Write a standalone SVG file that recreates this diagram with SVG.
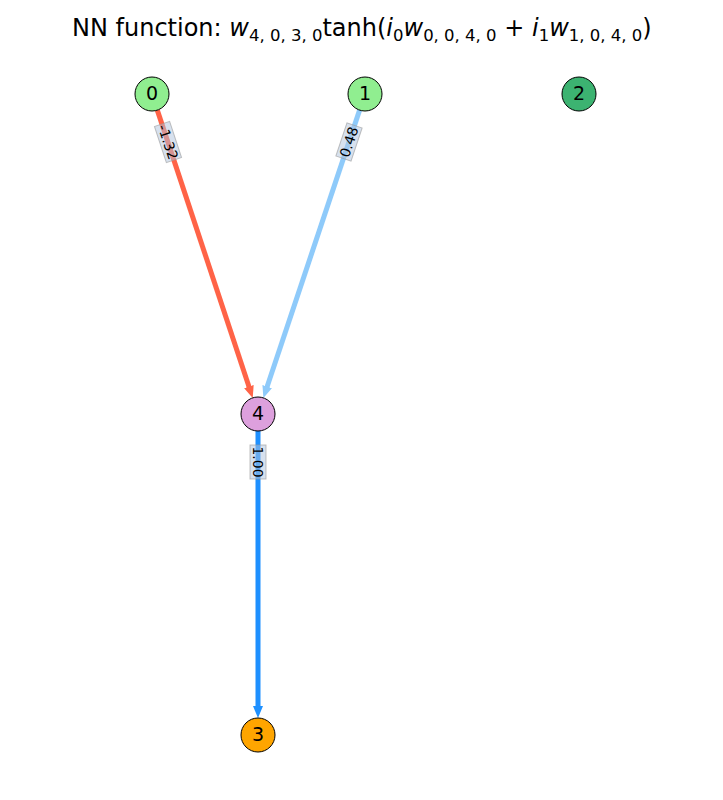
<svg xmlns="http://www.w3.org/2000/svg" width="723" height="800" viewBox="0 0 723 800">
<style>
.node circle{stroke:#000;stroke-width:1}
.node text{font-family:"DejaVu Sans",sans-serif;font-size:19px;text-anchor:middle;dominant-baseline:central;fill:#000}
.edge{stroke-width:5;fill:none}
.lbl rect{fill:#b0c4de;fill-opacity:0.5;stroke:#9a9a9a;stroke-opacity:0.6;stroke-width:1}
.lbl text{font-family:"DejaVu Sans",sans-serif;font-size:14px;text-anchor:middle;dominant-baseline:central;fill:#000}
.title{font-family:"DejaVu Sans",sans-serif;font-size:24px;fill:#000}
.it{font-style:italic}
</style>
<defs>
<marker id="aR" markerUnits="userSpaceOnUse" markerWidth="12" markerHeight="10" refX="5" refY="5" orient="auto"><path d="M0,0 L12,5 L0,10 z" fill="#FF6347"/></marker>
<marker id="aL" markerUnits="userSpaceOnUse" markerWidth="12" markerHeight="10" refX="5" refY="5" orient="auto"><path d="M0,0 L12,5 L0,10 z" fill="#8ECAFA"/></marker>
<marker id="aD" markerUnits="userSpaceOnUse" markerWidth="12" markerHeight="10" refX="5" refY="5" orient="auto"><path d="M0,0 L12,5 L0,10 z" fill="#1E90FF"/></marker>
</defs>
<rect width="723" height="800" fill="#fff"/>
<text class="title" x="72" y="36">NN function: <tspan class="it">w</tspan><tspan font-size="16.5" dy="5">4, 0, 3, 0</tspan><tspan dy="-5">tanh(</tspan><tspan class="it">i</tspan><tspan font-size="16.5" dy="5">0</tspan><tspan class="it" dy="-5">w</tspan><tspan font-size="16.5" dy="5">0, 0, 4, 0</tspan><tspan dy="-5"> + </tspan><tspan class="it">i</tspan><tspan font-size="16.5" dy="5">1</tspan><tspan class="it" dy="-5">w</tspan><tspan font-size="16.5" dy="5">1, 0, 4, 0</tspan><tspan dy="-5">)</tspan></text>
<g id="edges">
<line class="edge" x1="157.3" y1="110.1" x2="250.5" y2="391.3" stroke="#FF6347" marker-end="url(#aR)"/>
<line class="edge" x1="359.6" y1="110.1" x2="265.6" y2="391.3" stroke="#8ECAFA" marker-end="url(#aL)"/>
<line class="edge" x1="258" y1="431" x2="258" y2="711" stroke="#1E90FF" marker-end="url(#aD)"/>
<g class="lbl" transform="translate(168,142) rotate(71.7)"><rect x="-19" y="-8" width="38" height="16"/><text x="0" y="0">-1.32</text></g>
<g class="lbl" transform="translate(349,142) rotate(-71.5)"><rect x="-17.5" y="-8" width="35" height="16"/><text x="0" y="0">0.48</text></g>
<g class="lbl" transform="translate(258,462) rotate(90)"><rect x="-17" y="-8" width="34" height="16"/><text x="0" y="0">1.00</text></g>
</g>
<g id="node0" class="node"><circle cx="152" cy="94" r="17" fill="#90EE90"/><text x="152" y="93">0</text></g>
<g id="node1" class="node"><circle cx="365" cy="94" r="17" fill="#90EE90"/><text x="365" y="93">1</text></g>
<g id="node2" class="node"><circle cx="579" cy="94" r="17" fill="#3CB371"/><text x="579" y="93">2</text></g>
<g id="node4" class="node"><circle cx="258" cy="414" r="17" fill="#DDA0DD"/><text x="258" y="413">4</text></g>
<g id="node3" class="node"><circle cx="258" cy="735" r="17" fill="#FFA500"/><text x="258" y="734">3</text></g>
</svg>
